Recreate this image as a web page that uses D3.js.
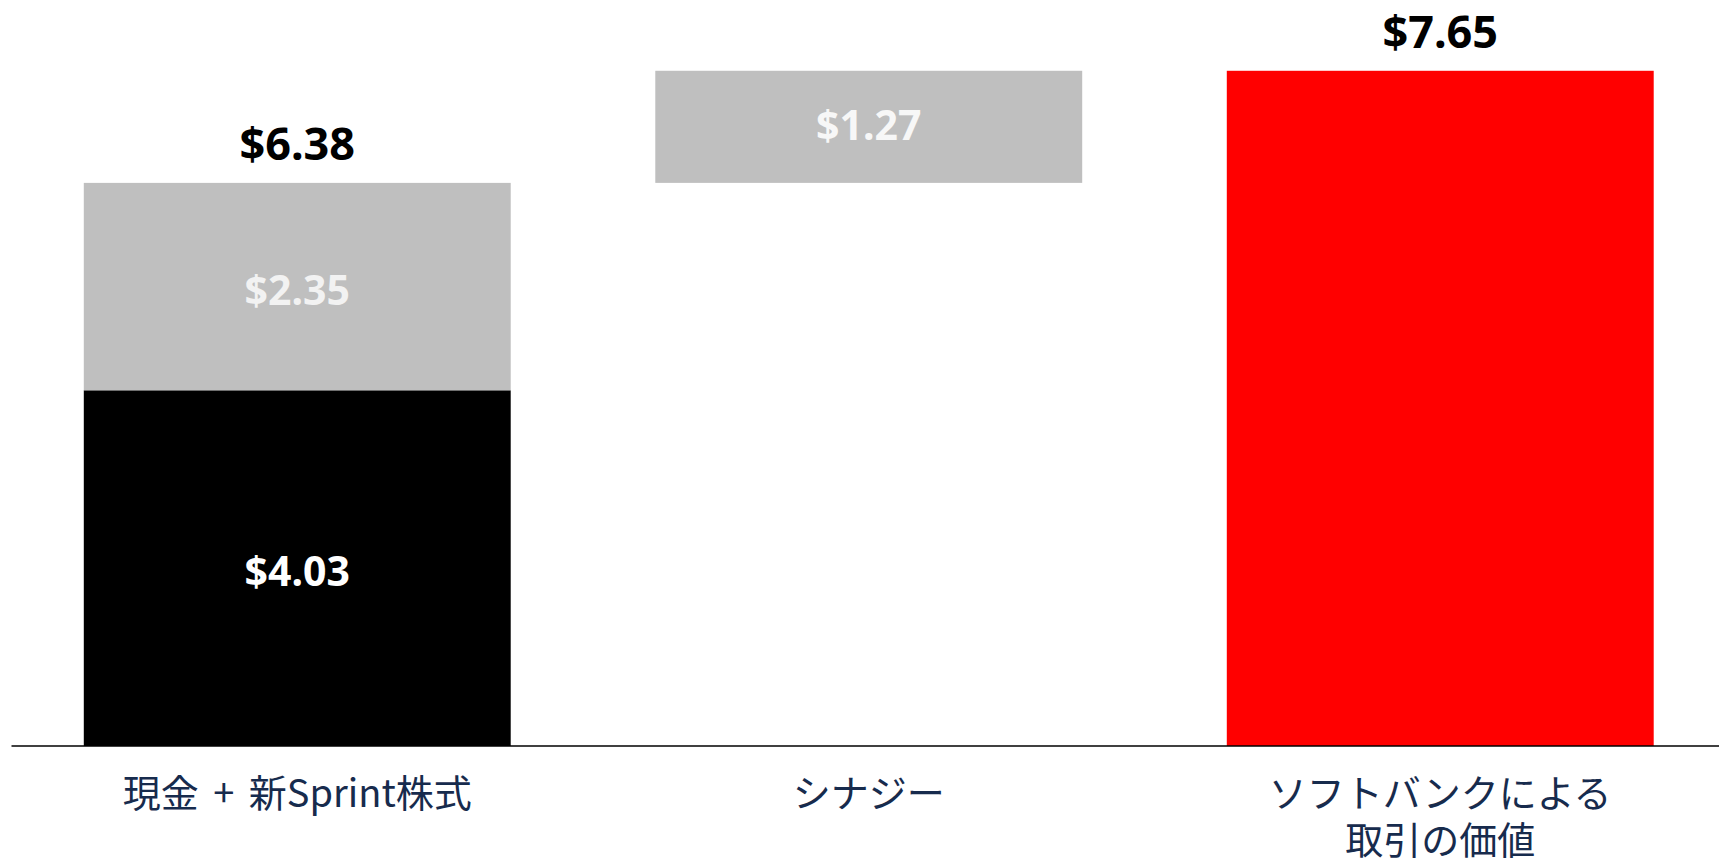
<!DOCTYPE html>
<html>
<head>
<meta charset="utf-8">
<script src="https://cdn.jsdelivr.net/npm/d3@7"></script>
<style>
  html, body { margin: 0; padding: 0; background: #fff; }
  svg { display: block; }
</style>
</head>
<body>
<svg id="chart" width="1719" height="862"></svg>
<script>
// ---- data ----
const categories = ["現金 + 新Sprint株式", "シナジー", "ソフトバンクによる\n取引の価値"];
const segmentNames = ["現金", "新Sprint株式", "シナジー", "ソフトバンクによる取引の価値"];
const segmentValues = [4.03, 2.35, 1.27, 7.65];
const segmentCategory = [0, 0, 1, 2];
const segmentIsTotal = [false, false, false, true];
const segmentLabels = ["$4.03", "$2.35", "$1.27", ""];
const totalLabels = ["$6.38", "", "$7.65"];

// ---- build waterfall ----
let running = 0;
const segments = segmentValues.map((v, i) => {
  let y0, y1;
  if (segmentIsTotal[i]) { y0 = 0; y1 = v; }
  else { y0 = running; y1 = running + v; running = y1; }
  return { name: segmentNames[i], cat: categories[segmentCategory[i]], y0, y1, label: segmentLabels[i], idx: i };
});
const catTops = categories.map((c) => d3.max(segments.filter(s => s.cat === c), s => s.y1));

const svg = d3.select("#chart");
const W = 1719, H = 862;

const x = d3.scaleBand().domain(categories).range([11.5, 1726]).paddingInner(0.253).paddingOuter(0.1265);
const y = d3.scaleLinear().domain([0, 8.452]).range([746, 0]);

const color = d3.scaleOrdinal().domain(segmentNames).range(["#000000", "#BFBFBF", "#BFBFBF", "#FF0000"]);
const labelColor = d3.scaleOrdinal().domain(segmentNames).range(["#FFFFFF", "#F2F2F2", "#F7F7F7", "#FFFFFF"]);

// bars
svg.append("g").selectAll("rect").data(segments).join("rect")
  .attr("x", d => x(d.cat))
  .attr("width", x.bandwidth())
  .attr("y", d => y(d.y1))
  .attr("height", d => y(d.y0) - y(d.y1))
  .attr("fill", d => color(d.name));

// inner labels
svg.append("g").selectAll("text").data(segments.filter(s => s.label)).join("text")
  .attr("x", d => x(d.cat) + x.bandwidth() / 2)
  .attr("y", d => (y(d.y0) + y(d.y1)) / 2 + (d.idx === 2 ? -3 : 2))
  .attr("text-anchor", "middle")
  .attr("dominant-baseline", "central")
  .attr("font-family", "'Noto Sans', 'Open Sans', sans-serif")
  .attr("font-weight", "bold")
  .attr("font-size", 41)
  .attr("fill", d => labelColor(d.name))
  .text(d => d.label);

// totals above
svg.append("g").selectAll("text").data(categories.map((c, i) => ({ c, top: catTops[i], label: totalLabels[i] })).filter(d => d.label))
  .join("text")
  .attr("x", d => x(d.c) + x.bandwidth() / 2)
  .attr("y", d => y(d.top) - 23)
  .attr("text-anchor", "middle")
  .attr("font-family", "'Noto Sans', 'Open Sans', sans-serif")
  .attr("font-weight", "bold")
  .attr("font-size", 45)
  .attr("fill", "#000")
  .text(d => d.label);

// x axis
const axis = svg.append("g").attr("transform", `translate(0,${y(0)})`)
  .call(d3.axisBottom(x).tickSize(0).tickFormat(""));
axis.select(".domain").attr("stroke", "#000").attr("stroke-width", 1.6).attr("d", `M${x.range()[0]},0H${W}`);

// category labels (one text element per line)
const labelLines = [];
categories.forEach(c => c.split("\n").forEach((ln, i) => labelLines.push({ c, ln, i })));
svg.append("g").selectAll("text").data(labelLines).join("text")
  .attr("x", d => x(d.c) + x.bandwidth() / 2)
  .attr("y", d => 794 + d.i * 47)
  .attr("dy", "0.35em")
  .attr("text-anchor", "middle")
  .attr("font-family", "'Noto Sans CJK JP', 'Noto Sans', sans-serif")
  .attr("font-size", 38)
  .attr("word-spacing", 6)
  .attr("fill", "#172B4D")
  .text(d => d.ln);
</script>
</body>
</html>
